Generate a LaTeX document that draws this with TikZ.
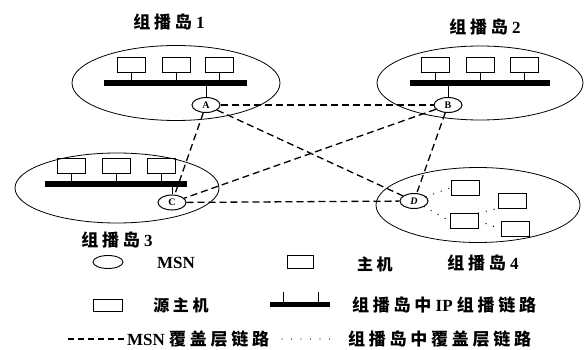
\documentclass[tikz,border=0pt]{standalone}
\usepackage{fontspec}
\setmainfont{Liberation Serif}
\newfontfamily\cjk{Noto Sans CJK SC}[LetterSpace=22]
\usetikzlibrary{shapes.geometric}
\newcommand{\zhtxt}[1]{{\cjk\bfseries #1}}
\begin{document}
\begin{tikzpicture}[x=1pt,y=-1pt,
  island/.style={draw, ellipse, line width=0.8pt, inner sep=0pt},
  msn/.style={draw, ellipse, minimum width=28pt, minimum height=15pt, inner sep=0pt, line width=1pt, font=\fontsize{10}{10}\selectfont\bfseries},
  host/.style={draw, rectangle, minimum width=28pt, minimum height=15pt, inner sep=0pt, line width=0.9pt},
  bus/.style={line width=6pt},
  stem/.style={line width=1pt},
  overlaylink/.style={line width=1.3pt, dash pattern=on 7pt off 4pt},
  dotlink/.style={line width=1.4pt, dash pattern=on 0pt off 8pt, line cap=round},
  lbl/.style={inner sep=0pt, font=\fontsize{17}{17}\selectfont\bfseries},
  zh/.style={inner sep=0pt, font=\fontsize{16}{16}\selectfont}
]
\useasboundingbox (0,0) rectangle (584,350);

% islands
\node[island, minimum width=208pt, minimum height=75pt] (i1) at (176,83) {};
\node[island, minimum width=206pt, minimum height=74pt] (i2) at (480,83) {};
\node[island, minimum width=204pt, minimum height=70pt] (i3) at (117,188) {};
\node[island, minimum width=204pt, minimum height=75pt] (i4) at (478,205) {};

% island labels
\node[lbl] (t1) at (169,22) {\zhtxt{组播岛} 1};
\node[lbl] (t2) at (485,27) {\zhtxt{组播岛} 2};
\node[lbl] (t3) at (117,240) {\zhtxt{组播岛} 3};
\node[lbl] (t4) at (483,263) {\zhtxt{组播岛} 4};

% island 1
\coordinate (b1l) at (104,83); \coordinate (b1r) at (247,83);
\draw[bus] (b1l) -- (b1r);
\node[host] (h11) at (131,64.5) {};
\node[host] (h12) at (176,64.5) {};
\node[host] (h13) at (219,64.5) {};
\foreach \h in {h11,h12,h13} \draw[stem] (\h.south) -- (\h.south |- b1l);
\node[msn] (A) at (206,105) {A};
\draw[stem] (A.north) -- (A.north |- b1l);

% island 2
\coordinate (b2l) at (410,83); \coordinate (b2r) at (550,83);
\draw[bus] (b2l) -- (b2r);
\node[host] (h21) at (435,65) {};
\node[host] (h22) at (480,65) {};
\node[host] (h23) at (524,65) {};
\foreach \h in {h21,h22,h23} \draw[stem] (\h.south) -- (\h.south |- b2l);
\node[msn] (B) at (448,105) {B};
\draw[stem] (B.north) -- (B.north |- b2l);

% island 3
\coordinate (b3l) at (45,184.5); \coordinate (b3r) at (187,184.5);
\draw[bus] (b3l) -- (b3r);
\node[host] (h31) at (71.5,165.5) {};
\node[host] (h32) at (116,165.5) {};
\node[host] (h33) at (161,165.5) {};
\foreach \h in {h31,h32,h33} \draw[stem] (\h.south) -- (\h.south |- b3l);
\node[msn] (C) at (172,202.5) {C};
\draw[stem] (C.north) -- (C.north |- b3l);

% island 4
\node[msn] (D) at (414,201) {\itshape D};
\node[host] (h41) at (465.5,187.5) {};
\node[host] (h42) at (512.5,200.5) {};
\node[host] (h43) at (464,221) {};
\node[host] (h44) at (515.5,229) {};
\draw[dotlink] (D) -- (h41.west);
\draw[dotlink] (D) -- (h43.west);
\draw[dotlink] (h43.north east) -- (h42.south west);
\draw[dotlink] (h43.east) -- (h44.west);

% MSN overlay links
\draw[overlaylink] (A) -- (B);
\draw[overlaylink] (A) -- (C);
\draw[overlaylink] (A) -- (D);
\draw[overlaylink] (B) -- (C);
\draw[overlaylink] (B) -- (D);
\draw[overlaylink] (C) -- (D);

% legend row 1
\node[draw, ellipse, minimum width=30pt, minimum height=13pt, inner sep=0pt, line width=0.9pt] (lmsn) at (108,262) {};
\node[lbl] (lmsnt) at (176,263) {MSN};
\node[draw, rectangle, minimum width=26pt, minimum height=13pt, inner sep=0pt, line width=0.9pt] (lhost) at (300,262) {};
\node[zh] (lhostt) at (375,264) {\zhtxt{主机}};

% legend row 2
\node[draw, rectangle, minimum width=29pt, minimum height=12pt, inner sep=0pt, line width=0.9pt] (lsrc) at (107.5,305) {};
\node[zh] (lsrct) at (181,305) {\zhtxt{源主机}};
\coordinate (lbl1) at (270,304) ; \coordinate (lbr1) at (330,304);
\draw[line width=5pt] (lbl1) -- (lbr1);
\coordinate (lt1) at (283,292); \coordinate (lt2) at (318,292);
\draw[stem] (lt1) -- (lt1 |- lbl1);
\draw[stem] (lt2) -- (lt2 |- lbl1);
\node[lbl, anchor=west] (lbust) at (352,305) {\zhtxt{组播岛中} IP \zhtxt{组播链路}};

% legend row 3
\coordinate (ld1) at (68,339); \coordinate (ld2) at (125,339);
\draw[line width=1.1pt, dash pattern=on 6pt off 4pt] (ld1) -- (ld2);
\node[lbl, anchor=west] (ldt) at (127,339.5) {MSN \zhtxt{覆盖层链路}};
\coordinate (lp1) at (282,339); \coordinate (lp2) at (330,339);
\draw[dotlink, line width=1.1pt, dash pattern=on 0pt off 9.5pt] (lp1) -- (lp2);
\node[lbl, anchor=west] (lpt) at (348,339.5) {\zhtxt{组播岛中覆盖层链路}};
\end{tikzpicture}
\end{document}
